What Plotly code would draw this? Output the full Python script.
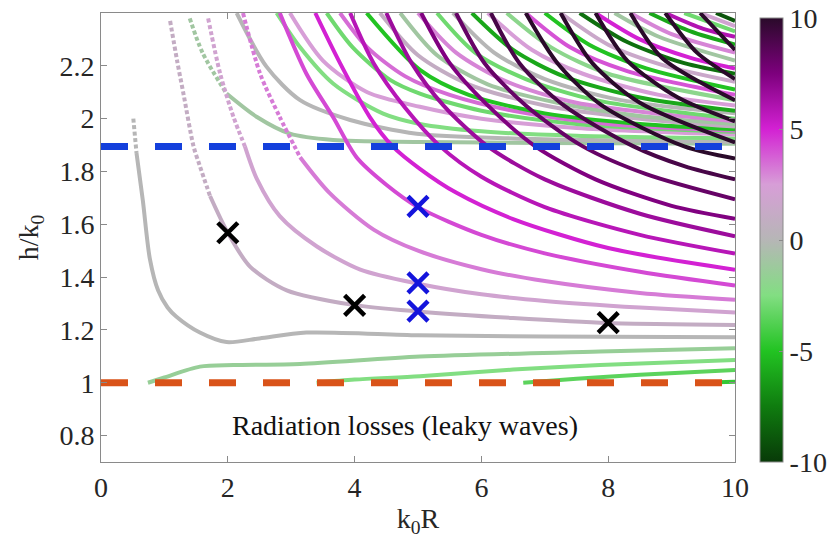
import plotly.graph_objects as go

# ---------------------------------------------------------------------------
# Dispersion curves h/k0 versus k0R, coloured by azimuthal order m
# ---------------------------------------------------------------------------

# fundamental (m = 0) branch that bends back above the light line
gray_x = [0.51, 0.56, 0.66, 0.77, 0.9, 1.05, 1.19, 1.56, 1.98, 2.5, 3.24, 5.0, 7.0, 10]
gray_y = [2.0, 1.87, 1.69, 1.47, 1.35, 1.285, 1.25, 1.19, 1.154, 1.168, 1.19, 1.18, 1.175, 1.172]
gray_m = 0
gray_dots = 1          # sparsely sampled head of the branch (drawn dotted)

# weakly guided branches leaving the light line h/k0 = 1
green_m = [-1.5, -2.5, -3.5, -4.5]
green_x = [
    [0.74, 1.0, 1.56, 2.09, 3.14, 5.03, 7.87, 10],
    [3.40, 4.0, 5.03, 6.5, 7.87, 10],
    [6.66, 7.5, 8.5, 10],
    [9.45, 10],
]
green_y = [
    [1.0, 1.02, 1.061, 1.067, 1.071, 1.099, 1.118, 1.131],
    [1.0, 1.012, 1.025, 1.05, 1.067, 1.086],
    [1.0, 1.015, 1.03, 1.048],
    [1.0, 1.004],
]

# m > 0 branches falling through the core line towards the light line
low_m = [1, 2, 3.2, 4.2, 5, 5.8, 6.6, 7.4, 8.2, 9.1, 10, 10, 10, 10, 10, 10]
low_dots = [5, 3, 3, 0, 0, 0, 0, 0, 0, 0, 0, 0, 0, 0, 0, 0]
low_x = [
    [1.09, 1.2, 1.3, 1.46, 1.56, 1.72, 2.0, 2.35, 2.93, 3.98, 5.0, 6.5, 8.0, 10],
    [1.69, 1.88, 2.09, 2.27, 2.46, 2.82, 3.40, 4.09, 5.0, 6.0, 7.0, 8.5, 10],
    [2.24, 2.51, 2.82, 3.14, 3.6, 4.3, 5.0, 6.0, 7.0, 8.5, 10],
    [2.82, 3.24, 3.66, 4.03, 4.5, 5.0, 6.0, 7.0, 8.5, 10],
    [3.38, 3.77, 4.24, 4.6, 5.03, 5.6, 6.5, 8.0, 10],
    [3.93, 4.3, 4.8, 5.35, 6.0, 7.0, 8.5, 10],
    [4.5, 4.9, 5.4, 6.1, 7.0, 8.5, 10],
    [5.05, 5.5, 6.1, 6.85, 7.8, 9.0, 10],
    [5.6, 6.05, 6.7, 7.6, 8.6, 10],
    [6.15, 6.6, 7.3, 8.4, 9.2, 10],
    [6.7, 7.2, 7.9, 9.2, 10],
    [7.25, 7.75, 8.5, 10],
    [7.8, 8.3, 9.1, 10],
    [8.35, 8.85, 10],
    [8.9, 9.4, 10],
    [9.45, 10],
]
low_y = [
    [2.37, 2.22, 2.095, 1.895, 1.82, 1.707, 1.568, 1.44, 1.35, 1.295, 1.27, 1.245, 1.226, 1.219],
    [2.38, 2.17, 2.006, 1.895, 1.771, 1.631, 1.517, 1.428, 1.375, 1.335, 1.31, 1.285, 1.266],
    [2.40, 2.17, 2.006, 1.854, 1.72, 1.58, 1.50, 1.43, 1.385, 1.34, 1.314],
    [2.40, 2.17, 2.006, 1.854, 1.75, 1.665, 1.56, 1.49, 1.42, 1.368],
    [2.40, 2.21, 2.006, 1.895, 1.81, 1.72, 1.62, 1.51, 1.428],
    [2.40, 2.21, 2.04, 1.895, 1.78, 1.665, 1.56, 1.489],
    [2.40, 2.21, 2.05, 1.895, 1.77, 1.64, 1.555],
    [2.40, 2.21, 2.05, 1.895, 1.77, 1.67, 1.621],
    [2.40, 2.21, 2.05, 1.895, 1.79, 1.695],
    [2.40, 2.21, 2.05, 1.895, 1.82, 1.770],
    [2.40, 2.21, 2.05, 1.895, 1.849],
    [2.40, 2.21, 2.06, 1.91],
    [2.40, 2.22, 2.08, 1.99],
    [2.40, 2.23, 2.07],
    [2.40, 2.25, 2.15],
    [2.40, 2.26],
]

# higher radial orders settling just above the core line
up_m = [-1, 0, -2.5, 2.5, -3, 3.5, -5, 1, -1, 3, -3, 0, -6, 2.5, -2, 4, -5, 1.5,
        -8, 5, -1, 3, -6, 6, -3, 2, -9]
up_dots = [2] + [0] * 26
up_x = [
    [1.40, 1.6, 1.98, 2.46, 2.98, 3.66, 5.0, 7.0, 10],
    [2.14, 2.61, 3.14, 3.93, 4.98, 6.5, 8.0, 10],
    [2.77, 3.14, 3.66, 4.45, 5.03, 6.0, 7.5, 10],
    [2.98, 3.5, 4.2, 5.03, 6.0, 7.5, 10],
    [3.56, 3.97, 4.56, 5.03, 6.0, 7.5, 10],
    [3.77, 4.2, 4.8, 5.5, 6.5, 8.0, 10],
    [4.19, 5.03, 5.8, 7.0, 8.5, 10],
    [4.4, 5.0, 5.8, 7.0, 8.5, 10],
    [4.72, 5.3, 6.1, 7.2, 8.5, 10],
    [5.0, 5.6, 6.4, 7.5, 10],
    [5.3, 5.9, 6.7, 7.8, 10],
    [5.55, 6.2, 7.0, 8.2, 10],
    [5.85, 6.5, 7.3, 8.5, 10],
    [6.1, 6.8, 7.6, 8.8, 10],
    [6.4, 7.1, 8.0, 10],
    [6.7, 7.4, 8.3, 10],
    [7.0, 7.7, 8.6, 10],
    [7.25, 8.0, 8.9, 10],
    [7.55, 8.3, 9.2, 10],
    [7.8, 8.5, 9.3, 10],
    [8.1, 8.8, 10],
    [8.35, 9.0, 10],
    [8.65, 9.3, 10],
    [8.9, 9.5, 10],
    [9.2, 10],
    [9.45, 10],
    [9.7, 10],
]
up_y = [
    [2.38, 2.25, 2.095, 2.006, 1.943, 1.919, 1.912, 1.908, 1.905],
    [2.40, 2.197, 2.07, 1.995, 1.943, 1.925, 1.918, 1.912],
    [2.40, 2.27, 2.133, 2.019, 1.98, 1.952, 1.935, 1.925],
    [2.40, 2.22, 2.10, 2.045, 2.0, 1.965, 1.94],
    [2.40, 2.27, 2.147, 2.095, 2.03, 1.98, 1.95],
    [2.40, 2.27, 2.16, 2.09, 2.03, 1.98, 1.955],
    [2.40, 2.185, 2.09, 2.02, 1.98, 1.96],
    [2.40, 2.24, 2.13, 2.05, 2.0, 1.97],
    [2.40, 2.24, 2.13, 2.06, 2.01, 1.98],
    [2.40, 2.25, 2.14, 2.06, 1.99],
    [2.40, 2.25, 2.15, 2.07, 2.0],
    [2.40, 2.25, 2.15, 2.07, 2.02],
    [2.40, 2.26, 2.16, 2.08, 2.03],
    [2.40, 2.26, 2.17, 2.09, 2.05],
    [2.40, 2.27, 2.17, 2.07],
    [2.40, 2.27, 2.18, 2.09],
    [2.40, 2.28, 2.19, 2.11],
    [2.40, 2.28, 2.20, 2.14],
    [2.40, 2.29, 2.21, 2.17],
    [2.40, 2.30, 2.23, 2.19],
    [2.40, 2.31, 2.22],
    [2.40, 2.32, 2.25],
    [2.40, 2.33, 2.28],
    [2.40, 2.34, 2.31],
    [2.40, 2.33],
    [2.40, 2.35],
    [2.40, 2.37],
]

# reference levels: light line and core line
light_line = 1.0
core_line = 1.895

# selected operating points
black_x = [2, 4, 8]
black_y = [1.568, 1.293, 1.228]
blue_x = [5, 5, 5]
blue_y = [1.668, 1.378, 1.271]

x_ticks = [0, 2, 4, 6, 8, 10]
y_ticks = [0.8, 1.0, 1.2, 1.4, 1.6, 1.8, 2.0, 2.2]
y_tick_text = ["0.8", "1", "1.2", "1.4", "1.6", "1.8", "2", "2.2"]
cbar_ticks = [-10, -5, 0, 5, 10]

# ---------------------------------------------------------------------------
CMIN, CMAX = -10, 10
SCALE = [(-10, "#083a08"), (-7.5, "#0f7c0f"), (-5, "#22c322"), (-2.5, "#82de82"),
         (0, "#b6b6b6"), (2.5, "#d79ed7"), (5, "#d321d3"), (7.5, "#7d007d"),
         (10, "#2a0a2a")]


def _rgb(h):
    return tuple(int(h[i:i + 2], 16) for i in (1, 3, 5))


def colour_of(v):
    v = max(CMIN, min(CMAX, v))
    for (v0, c0), (v1, c1) in zip(SCALE, SCALE[1:]):
        if v <= v1:
            t = (v - v0) / (v1 - v0)
            a, b = _rgb(c0), _rgb(c1)
            return "rgb(%d,%d,%d)" % tuple(round(a[i] + (b[i] - a[i]) * t) for i in range(3))
    return SCALE[-1][1]


FONT = "Liberation Serif"
FS = 28
TXT = "#262626"
AX = "#8a8a8a"
LW = 4

fig = go.Figure()


def add_curve(xs, ys, m, dots=0):
    """Draw one branch; its first `dots` segments are drawn as a bead chain."""
    col = colour_of(m)
    if dots:
        fig.add_trace(go.Scatter(
            x=xs[:dots + 1], y=ys[:dots + 1], mode="lines", showlegend=False,
            hoverinfo="skip",
            line=dict(color=col, width=LW, shape="spline", smoothing=0.8,
                      dash="4px,2.5px"),
        ))
    fig.add_trace(go.Scatter(
        x=xs[dots:], y=ys[dots:], mode="lines", showlegend=False, hoverinfo="skip",
        line=dict(color=col, width=LW, shape="spline", smoothing=0.8),
    ))


for xs, ys, m, d in zip(up_x, up_y, up_m, up_dots):
    add_curve(xs, ys, m, d)
for xs, ys, m in zip(green_x, green_y, green_m):
    add_curve(xs, ys, m)
add_curve(gray_x, gray_y, gray_m, gray_dots)
for xs, ys, m, d in zip(low_x, low_y, low_m, low_dots):
    add_curve(xs, ys, m, d)

# dashed reference levels
fig.add_trace(go.Scatter(x=[0, 10], y=[core_line, core_line], mode="lines",
                         showlegend=False, hoverinfo="skip",
                         line=dict(color="#1440dc", width=7, dash="27px,27px")))
fig.add_trace(go.Scatter(x=[0, 10], y=[light_line, light_line], mode="lines",
                         showlegend=False, hoverinfo="skip",
                         line=dict(color="#d95319", width=7, dash="27px,27px")))

# operating points
fig.add_trace(go.Scatter(x=black_x, y=black_y, mode="markers", showlegend=False,
                         marker=dict(symbol="x-thin", size=20,
                                     line=dict(color="black", width=4.5))))
fig.add_trace(go.Scatter(x=blue_x, y=blue_y, mode="markers", showlegend=False,
                         marker=dict(symbol="x-thin", size=20,
                                     line=dict(color="#1414dc", width=4.5))))

# colour bar carrier
fig.add_trace(go.Scatter(
    x=[None], y=[None], mode="markers", showlegend=False, hoverinfo="skip",
    marker=dict(color=[0], cmin=CMIN, cmax=CMAX,
                colorscale=[[(v - CMIN) / (CMAX - CMIN), c] for v, c in SCALE],
                showscale=True,
                colorbar=dict(x=1.039, xanchor="left", xpad=0, ypad=0,
                              y=0, yanchor="bottom", len=0.988, lenmode="fraction",
                              thickness=23, outlinewidth=1, outlinecolor=AX,
                              tickmode="array", tickvals=cbar_ticks,
                              ticktext=[str(t) for t in cbar_ticks],
                              ticklabeloverflow="allow",
                              ticks="inside", ticklen=4, tickcolor=AX,
                              tickfont=dict(family=FONT, size=FS, color=TXT))),
))

fig.add_annotation(x=4.79, y=0.839, text="Radiation losses (leaky waves)",
                   showarrow=False, xref="x", yref="y",
                   font=dict(family=FONT, size=FS, color="#111111"))

fig.update_layout(
    width=827, height=547,
    margin=dict(l=101, r=92, t=13, b=85, autoexpand=False),
    paper_bgcolor="white", plot_bgcolor="white",
    font=dict(family=FONT, size=FS, color=TXT),
    xaxis=dict(range=[0, 10], tickvals=x_ticks, showgrid=False, zeroline=False,
               showline=True, linecolor=AX, linewidth=1, mirror="ticks",
               ticks="inside", ticklen=6, tickcolor=AX,
               tickfont=dict(family=FONT, size=FS, color=TXT),
               title=dict(text="k<sub>0</sub>R", standoff=6,
                          font=dict(family=FONT, size=FS, color=TXT))),
    yaxis=dict(range=[0.7, 2.4], tickvals=y_ticks, ticktext=y_tick_text,
               showgrid=False, zeroline=False,
               showline=True, linecolor=AX, linewidth=1, mirror="ticks",
               ticks="inside", ticklen=6, tickcolor=AX,
               tickfont=dict(family=FONT, size=FS, color=TXT),
               title=dict(text="h/k<sub>0</sub>", standoff=12,
                          font=dict(family=FONT, size=FS, color=TXT))),
)

fig.write_html("out.html")
